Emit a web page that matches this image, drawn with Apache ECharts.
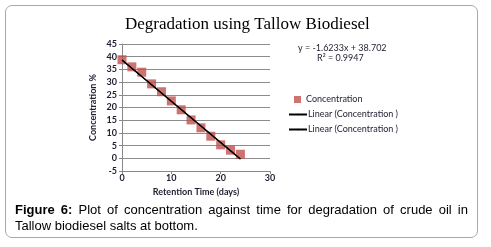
<!DOCTYPE html>
<html>
<head>
<meta charset="utf-8">
<script src="https://cdn.jsdelivr.net/npm/echarts@6/dist/echarts.min.js"></script>
<style>
  html, body { margin:0; padding:0; background:#fff; }
  #wrap { position:relative; width:491px; height:247px; }
  #box { position:absolute; left:5px; top:5px; width:471px; height:231px;
         border:1px solid #a8a8a8; border-radius:7px; }
  #chart { position:absolute; left:0; top:0; width:491px; height:247px; }
  #caption { position:absolute; left:15px; top:202px; width:453px;
             font-family:"Liberation Sans", Arial, sans-serif; font-size:13px;
             line-height:16px; color:#000; text-align:justify; text-align-last:left; }
</style>
</head>
<body>
<div id="wrap">
  <div id="box"></div>
  <div id="chart"></div>
  <div id="caption"><b>Figure 6:</b> Plot of concentration against time for degradation of crude oil in Tallow biodiesel salts at bottom.</div>
</div>
<script>
// retention time (days) and concentration (%)
var days = [0, 2, 4, 6, 8, 10, 12, 14, 16, 18, 20, 22, 24];
var concentration = [38.8, 36.0, 33.9, 29.3, 26.2, 22.6, 19.1, 15.1, 12.0, 8.7, 5.3, 3.2, 1.6];
// linear trend line end points
var trendDays = [0, 24];
var trendValues = [38.7, -0.26];
var equationText = ['y = -1.6233x + 38.702', 'R\u00b2 = 0.9947'];

var txt = '#1e1e30';
var lblFont = 'Lato, "Open Sans", sans-serif';

var scatterData = days.map(function(d, i){ return [d, concentration[i]]; });
var trendData = trendDays.map(function(d, i){ return [d, trendValues[i]]; });

var myChart = echarts.init(document.getElementById('chart'));
var option = {
    backgroundColor:'transparent',
    animation:false,
    title:{
        text:'Degradation using Tallow Biodiesel',
        left:120,
        top:11,
        textStyle:{ fontFamily:'"Liberation Serif", serif', fontSize:17, fontWeight:'normal', color:'#000' }
    },
    grid:{ left:122, top:44, width:148, height:127 },
    xAxis:{
        type:'value', min:0, max:30, interval:10,
        name:'Retention Time (days)', nameLocation:'middle', nameGap:12,
        nameTextStyle:{ fontFamily:lblFont, fontSize:9, fontWeight:'bold', color:txt },
        axisLine:{ onZero:false, lineStyle:{ color:'#888' } },
        axisTick:{ show:true, length:3, lineStyle:{ color:'#888' } },
        axisLabel:{ fontFamily:lblFont, fontSize:9, fontWeight:'bold', color:txt, margin:3 },
        splitLine:{ show:false }
    },
    yAxis:{
        type:'value', min:-5, max:45, interval:5,
        name:'Concentration %', nameLocation:'middle', nameGap:24, nameRotate:90,
        nameTextStyle:{ fontFamily:lblFont, fontSize:9, fontWeight:'bold', color:txt },
        axisLine:{ show:true, lineStyle:{ color:'#888' } },
        axisTick:{ show:true, length:3, lineStyle:{ color:'#888' } },
        axisLabel:{ fontFamily:lblFont, fontSize:9, fontWeight:'bold', color:txt, margin:5 },
        splitLine:{ show:true, lineStyle:{ color:'#8c8c8c', width:1 } }
    },
    legend:[
        { data:['Concentration'], left:294, top:95, padding:0, itemWidth:7, itemHeight:7, itemGap:0,
          textStyle:{ fontFamily:lblFont, fontSize:9, color:txt } },
        { data:['Linear (Concentration )'], left:288, top:110, padding:0, itemWidth:18, itemHeight:2, itemGap:0,
          textStyle:{ fontFamily:lblFont, fontSize:9, color:txt, padding:[0,0,0,-4] } },
        { data:['Linear (Concentration )'], left:288, top:125, padding:0, itemWidth:18, itemHeight:2, itemGap:0,
          textStyle:{ fontFamily:lblFont, fontSize:9, color:txt, padding:[0,0,0,-4] } }
    ],
    graphic:[
        { type:'text', left:298, top:44, style:{ text:equationText[0], font:'9px ' + lblFont, fill:txt } },
        { type:'text', left:317, top:54, style:{ text:equationText[1], font:'9px ' + lblFont, fill:txt } }
    ],
    series:[
        {
            name:'Concentration', type:'scatter', symbol:'rect', symbolSize:9,
            itemStyle:{ color:'#c0504d' }, data:scatterData, z:2
        },
        {
            name:'Linear (Concentration )', type:'line', symbol:'none',
            lineStyle:{ color:'#000', width:1.1 }, itemStyle:{ color:'#000' }, data:trendData, z:3
        },
        {
            name:'Linear (Concentration )', type:'line', symbol:'none',
            lineStyle:{ color:'#000', width:1.1 }, itemStyle:{ color:'#000' }, data:trendData, z:3
        }
    ]
};
myChart.setOption(option);
</script>
</body>
</html>
